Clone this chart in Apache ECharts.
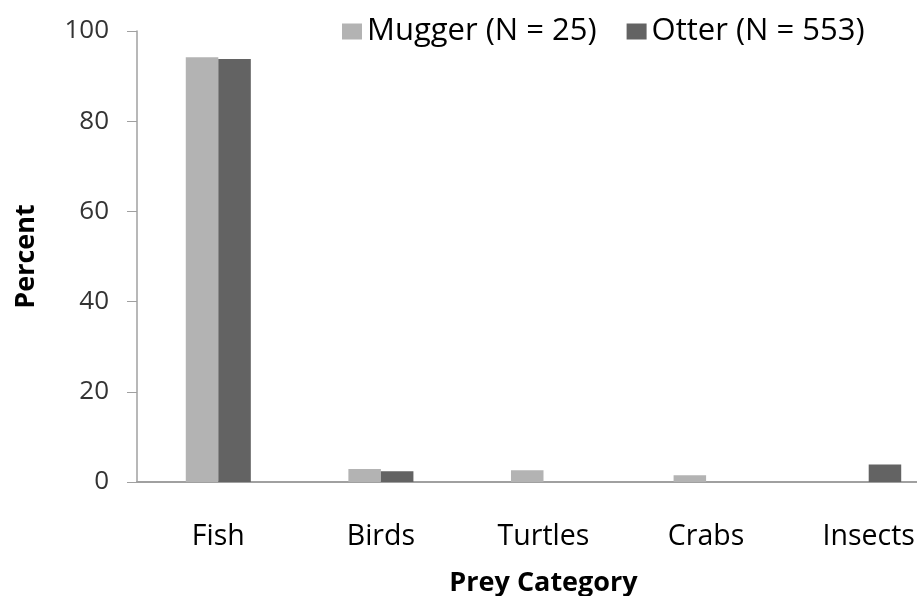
<!DOCTYPE html>
<html><head><meta charset="utf-8">
<script src="https://cdn.jsdelivr.net/npm/echarts@6/dist/echarts.min.js"></script>
<style>html,body{margin:0;padding:0;background:#fff}#c{width:917px;height:596px}</style>
</head><body><div id="c"></div>
<script>
const categories = ['Fish','Birds','Turtles','Crabs','Insects'];
const mugger = [94.2, 2.9, 2.6, 1.5, 0];
const otter = [93.8, 2.4, 0, 0, 3.9];
const seriesNames = ['Mugger (N = 25)', 'Otter (N = 553)'];
const yTicks = [0, 20, 40, 60, 80, 100];

const FONT = '"Open Sans", "Noto Sans", sans-serif';
const chart = echarts.init(document.getElementById('c'));
chart.setOption({
  animation: false,
  textStyle: {fontFamily: FONT},
  legend: {
    left: 342, top: 16, itemWidth: 20, itemHeight: 16, itemGap: 30,
    icon: 'rect', padding: 0,
    textStyle: {fontSize: 31, color: '#000', fontFamily: FONT},
    data: seriesNames
  },
  grid: {left: 137, right: -33, top: 31, bottom: 114, containLabel: false, outerBoundsMode: 'none'},
  xAxis: {
    type: 'category', data: categories,
    axisLine: {lineStyle: {color: '#a0a0a0', width: 2}},
    axisTick: {show: false},
    axisLabel: {fontSize: 28.5, color: '#000', margin: 40, fontFamily: FONT},
    name: 'Prey Category', nameLocation: 'middle', nameGap: 88,
    nameTextStyle: {fontSize: 27, fontWeight: 'bold', color: '#000', fontFamily: FONT}
  },
  yAxis: {
    type: 'value', min: 0, max: 100, interval: 20,
    axisLine: {show: true, lineStyle: {color: '#a0a0a0', width: 1.5}},
    axisTick: {show: true, inside: false, length: 10, lineStyle: {color: '#a0a0a0'}},
    splitLine: {show: false},
    axisLabel: {fontSize: 26, color: '#333', margin: 28, fontFamily: FONT,
      formatter: v => yTicks.includes(v) ? String(v) : ''},
    name: 'Percent', nameLocation: 'middle', nameGap: 97, nameRotate: 90,
    nameTextStyle: {fontSize: 27, fontWeight: 'bold', color: '#000', fontFamily: FONT}
  },
  series: [
    {name: seriesNames[0], type: 'bar', data: mugger, barGap: '0%', barCategoryGap: '60%',
     itemStyle: {color: '#b3b3b3', borderWidth: 0}},
    {name: seriesNames[1], type: 'bar', data: otter,
     itemStyle: {color: '#636363', borderWidth: 0}}
  ]
});
</script></body></html>
